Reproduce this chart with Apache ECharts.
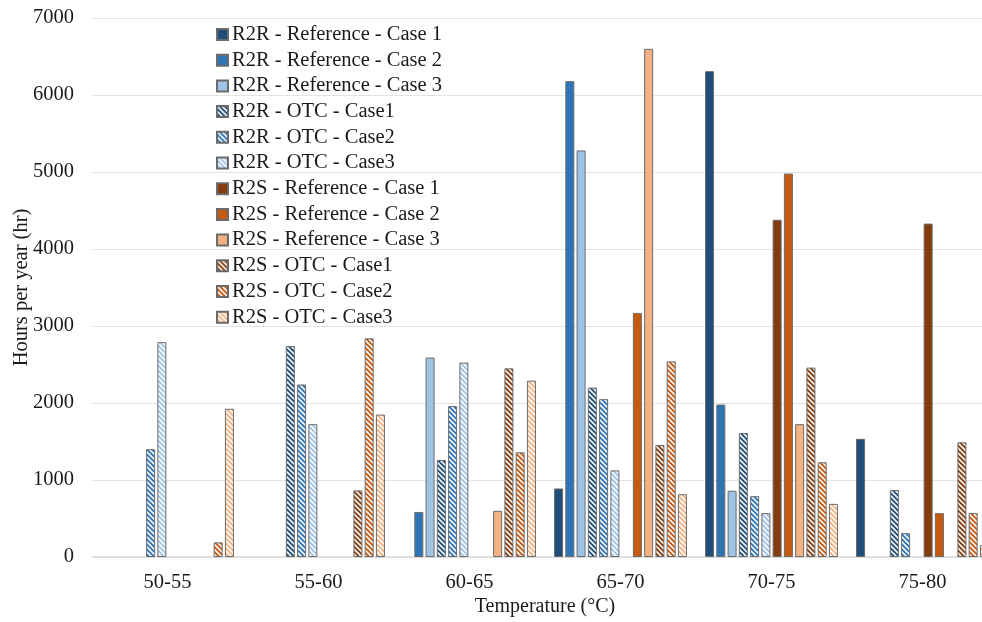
<!DOCTYPE html>
<html>
<head>
<meta charset="utf-8">
<script src="https://cdn.jsdelivr.net/npm/echarts@6/dist/echarts.min.js"></script>
<style>
  html, body { margin: 0; padding: 0; background: #fff; }
  #chart { width: 982px; height: 622px; }
</style>
</head>
<body>
<div id="chart"></div>
<script>
var categories = ['50-55', '55-60', '60-65', '65-70', '70-75', '75-80'];

// hours per year, one array per series
var r2rRefCase1 = [0, 0, 0, 890, 6310, 1535];
var r2rRefCase2 = [0, 0, 585, 6180, 1980, 0];
var r2rRefCase3 = [0, 0, 2590, 5280, 860, 0];
var r2rOtcCase1 = [0, 2740, 1260, 2200, 1610, 870];
var r2rOtcCase2 = [1400, 2240, 1960, 2050, 790, 310];
var r2rOtcCase3 = [2790, 1725, 2525, 1125, 570, 0];
var r2sRefCase1 = [0, 0, 0, 0, 4380, 4330];
var r2sRefCase2 = [0, 0, 0, 3170, 4980, 570];
var r2sRefCase3 = [0, 0, 600, 6600, 1725, 0];
var r2sOtcCase1 = [0, 865, 2450, 1455, 2460, 1490];
var r2sOtcCase2 = [190, 2840, 1360, 2540, 1230, 570];
var r2sOtcCase3 = [1925, 1850, 2290, 815, 690, 155];

var yTicks = [0, 1000, 2000, 3000, 4000, 5000, 6000, 7000];

var FONT = "'Liberation Serif', 'Times New Roman', serif";

// diagonal white hatch on a colour, used for the OTC bars
function hatch(color) {
    var s = 5;
    var c = document.createElement('canvas');
    c.width = s; c.height = s;
    var ctx = c.getContext('2d');
    ctx.fillStyle = color;
    ctx.fillRect(0, 0, s, s);
    ctx.strokeStyle = 'rgba(255,255,255,0.95)';
    ctx.lineWidth = 1.7;
    for (var k = -1; k <= 1; k++) {
        ctx.beginPath();
        ctx.moveTo(k * s - 1, -1);
        ctx.lineTo(k * s + s + 1, s + 1);
        ctx.stroke();
    }
    return { image: c, repeat: 'repeat' };
}

var seriesDefs = [
    ['R2R - Reference - Case 1', r2rRefCase1, '#1f4e79', false],
    ['R2R - Reference - Case 2', r2rRefCase2, '#2e75b6', false],
    ['R2R - Reference - Case 3', r2rRefCase3, '#9dc3e6', false],
    ['R2R - OTC - Case1', r2rOtcCase1, '#1f4e79', true],
    ['R2R - OTC - Case2', r2rOtcCase2, '#2e75b6', true],
    ['R2R - OTC - Case3', r2rOtcCase3, '#9dc3e6', true],
    ['R2S - Reference - Case 1', r2sRefCase1, '#843c0c', false],
    ['R2S - Reference - Case 2', r2sRefCase2, '#c55a11', false],
    ['R2S - Reference - Case 3', r2sRefCase3, '#f4b183', false],
    ['R2S - OTC - Case1', r2sOtcCase1, '#843c0c', true],
    ['R2S - OTC - Case2', r2sOtcCase2, '#c55a11', true],
    ['R2S - OTC - Case3', r2sOtcCase3, '#f4b183', true]
];

var series = seriesDefs.map(function (d) {
    return {
        name: d[0],
        type: 'bar',
        // zero hours: no bar at all
        data: d[1].map(function (v) { return v === 0 ? '-' : v; }),
        barGap: '25%',
        barCategoryGap: '12%',
        itemStyle: {
            color: d[3] ? hatch(d[2]) : d[2],
            borderColor: '#6b6b6b',
            borderWidth: 1
        }
    };
});

var myChart = echarts.init(document.getElementById('chart'));

var option = {
    animation: false,
    backgroundColor: '#ffffff',
    grid: {
        left: 92,
        top: 18,
        width: 906,
        bottom: 65,
        outerBoundsMode: 'none'
    },
    legend: {
        orient: 'vertical',
        left: 211,
        top: 19,
        icon: 'rect',
        itemWidth: 11,
        itemHeight: 11,
        itemGap: 4.7,
        textStyle: {
            fontFamily: FONT,
            fontSize: 20.5,
            lineHeight: 20,
            color: '#1a1a1a',
            padding: [0, 0, 0, -1]
        },
        data: seriesDefs.map(function (d) { return d[0]; })
    },
    xAxis: {
        type: 'category',
        data: categories,
        name: 'Temperature (°C)',
        nameLocation: 'middle',
        nameGap: 40,
        nameMoveOverlap: false,
        nameTextStyle: { fontFamily: FONT, fontSize: 20, color: '#1a1a1a' },
        axisLine: { lineStyle: { color: '#d9d9d9', width: 1.5 } },
        axisTick: { show: false },
        axisLabel: { fontFamily: FONT, fontSize: 20.5, color: '#1a1a1a', margin: 15 }
    },
    yAxis: {
        type: 'value',
        min: yTicks[0],
        max: yTicks[yTicks.length - 1],
        interval: 1000,
        name: 'Hours per year (hr)',
        nameLocation: 'middle',
        nameGap: 60,
        nameMoveOverlap: false,
        nameTextStyle: { fontFamily: FONT, fontSize: 20.5, color: '#1a1a1a' },
        axisLine: { show: false },
        axisTick: { show: false },
        axisLabel: {
            fontFamily: FONT, fontSize: 20.5, color: '#1a1a1a', margin: 18,
            formatter: function (v) { return String(v); }
        },
        splitLine: { lineStyle: { color: '#e3e3e3', width: 1 } }
    },
    series: series
};

myChart.setOption(option);
</script>
</body>
</html>
